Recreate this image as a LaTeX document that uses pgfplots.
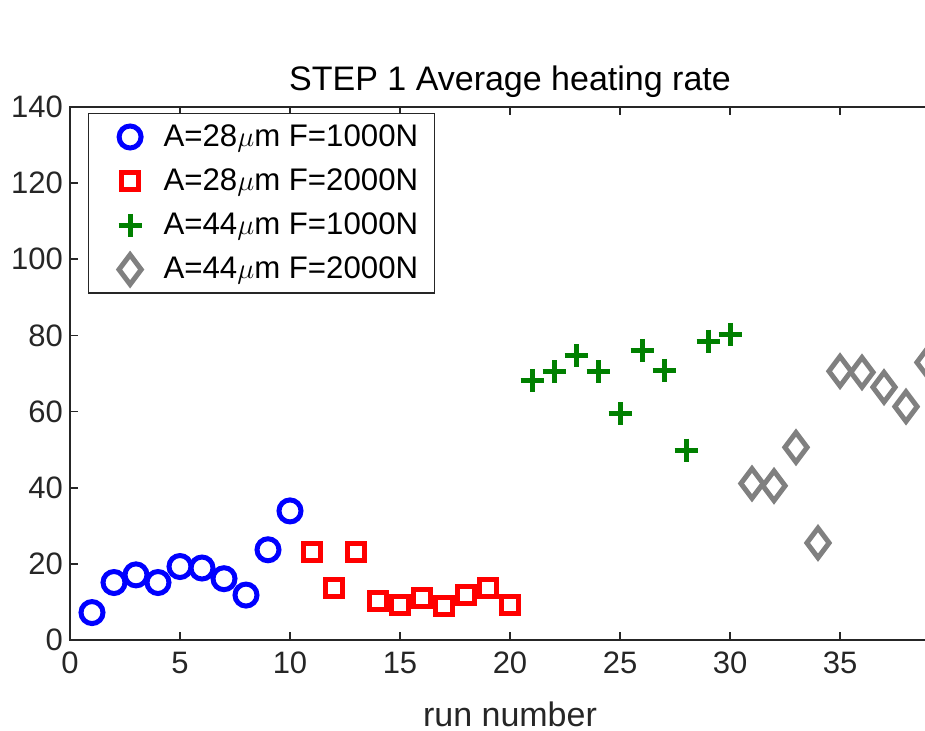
\documentclass[border=0pt]{standalone}
\usepackage{fontspec}
\setmainfont{Liberation Sans}
\usepackage{pgfplots}
\pgfplotsset{compat=1.18}
\definecolor{axgray}{RGB}{38,38,38}
\definecolor{mgreen}{RGB}{0,128,0}
\definecolor{mgray}{RGB}{128,128,128}
\pgfplotsset{myleg/.style={legend image code/.code={\path (0pt,0pt) (27pt,0pt);\draw[mark repeat=2, mark phase=2, ##1] plot coordinates {(0pt,0pt) (13.5pt,0pt) (27pt,0pt)};}}}
\begin{document}
\begin{tikzpicture}
\useasboundingbox (0,0) rectangle (462.5pt,365.5pt);
\clip (0,0) rectangle (462.5pt,365.5pt);
\begin{axis}[
  at={(35pt,45.5pt)}, anchor=south west,
  scale only axis, width=440pt, height=266.5pt,
  xmin=0, xmax=40, ymin=0, ymax=140,
  xtick={0,5,...,35}, ytick={0,20,...,140},
  axis line style={axgray, line width=0.8pt},
  tick style={axgray, line width=0.8pt},
  major tick length=4pt,
  tick align=inside,
  /pgf/number format/assume math mode=true,
  ticklabel style={font=\fontsize{15.5}{18}\selectfont, text=axgray},
  xticklabel style={yshift=-2.5pt},
  title={STEP 1 Average heating rate},
  title style={font=\fontsize{17}{20}\selectfont, text=black, yshift=-5pt},
  xlabel={run number},
  xlabel style={font=\fontsize{17}{20}\selectfont, text=axgray, yshift=-7pt},
  legend style={at={(axis description cs:0,1)}, anchor=north west,
    xshift=9pt, yshift=-3pt, draw=axgray, line width=0.6pt,
    font=\fontsize{15.6}{18.5}\selectfont, cells={anchor=west},
    row sep=5.7pt, inner xsep=6pt, inner ysep=3.5pt},
]
\addplot[only marks, myleg, mark=o, color=blue, mark size=5.5pt, line width=2.5pt] coordinates {
(1,7.2) (2,15.1) (3,17.1) (4,15.1) (5,19.3) (6,18.9) (7,16.1) (8,11.8) (9,23.7) (10,33.9)};
\addlegendentry{A=28$\mu$m F=1000N}
\addplot[only marks, myleg, mark=square, color=red, mark size=4.25pt, line width=2.5pt] coordinates {
(11,23.0) (12,13.6) (13,23.2) (14,10.3) (15,9.1) (16,11.0) (17,8.8) (18,11.8) (19,13.6) (20,9.1)};
\addlegendentry{A=28$\mu$m F=2000N}
\addplot[only marks, myleg, mark=+, color=mgreen, mark size=5.75pt, line width=2.5pt] coordinates {
(21,68.2) (22,70.5) (23,74.7) (24,70.5) (25,59.4) (26,76.1) (27,70.8) (28,49.9) (29,78.5) (30,80.3)};
\addlegendentry{A=44$\mu$m F=1000N}
\addplot[only marks, myleg, mark=diamond, color=mgray, mark size=7.4pt, line width=2.5pt] coordinates {
(31,41.1) (32,40.5) (33,50.6) (34,25.5) (35,70.6) (36,70.3) (37,66.4) (38,61.3) (39,72.9)};
\addlegendentry{A=44$\mu$m F=2000N}
\end{axis}
\end{tikzpicture}
\end{document}
